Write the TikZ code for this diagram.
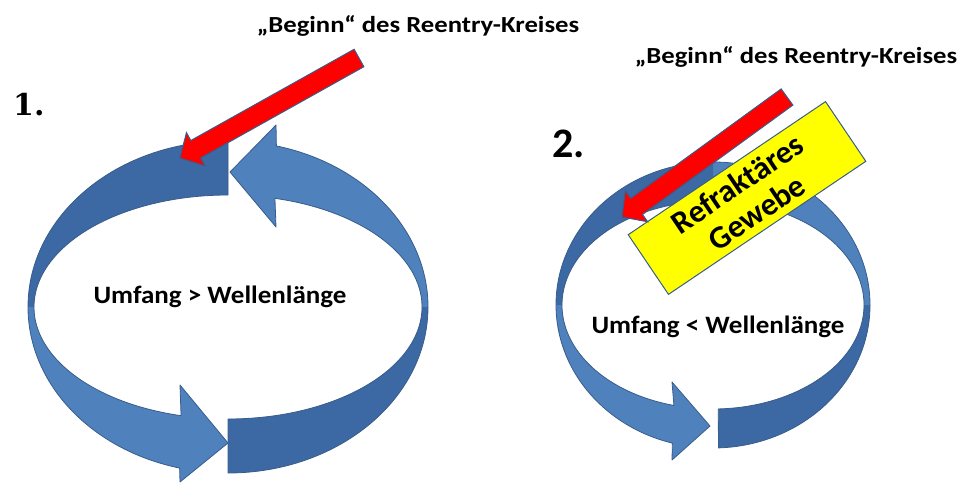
\documentclass[tikz,border=0pt]{standalone}
\usepackage{fontspec}
\usepackage{tikz}
\usetikzlibrary{calc}
\newfontfamily\carlito{Carlito}
\newfontfamily\numfont{DejaVu Serif}
\definecolor{ringlight}{RGB}{79, 129, 189}
\definecolor{ringdark}{RGB}{60, 104, 163}
\definecolor{ringline}{RGB}{56, 93, 138}
\definecolor{arrowred}{RGB}{255, 0, 0}
\definecolor{boxyellow}{RGB}{255, 255, 0}
% one piece of the ring band between two angles
\newcommand{\ringseg}[2]{({\rxo*cos(#1)},{\ryo*sin(#1)})
  arc[start angle=#1, end angle=#2, x radius=\rxo, y radius=\ryo]
  -- ({\rxi*cos(#2)},{\ryi*sin(#2)})
  arc[start angle=#2, end angle=#1, x radius=\rxi, y radius=\ryi] -- cycle}
% band piece that ends in an arrow head
\newcommand{\ringhead}[5]{({\rxo*cos(#1)},{\ryo*sin(#1)})
  arc[start angle=#1, end angle=#2, x radius=\rxo, y radius=\ryo]
  -- #3 -- #4 -- #5 -- ({\rxi*cos(#2)},{\ryi*sin(#2)})
  arc[start angle=#2, end angle=#1, x radius=\rxi, y radius=\ryi] -- cycle}
% red block arrow from #1 to #2
\newcommand{\blockarrow}[2]{%
  \coordinate (hb) at ($(#2)!18pt!(#1)$);
  \filldraw[redarrow] ($(#1)!10pt!90:(#2)$) -- ($(hb)!10pt!90:(#2)$)
    -- ($(hb)!19pt!90:(#2)$) -- (#2) -- ($(hb)!19pt!-90:(#2)$)
    -- ($(hb)!10pt!-90:(#2)$) -- ($(#1)!10pt!-90:(#2)$) -- cycle;}

\begin{document}
\begin{tikzpicture}[x=1pt, y=1pt,
    ringline/.style={draw=ringline, line width=0.8pt, line join=round},
    redarrow/.style={fill=arrowred, draw=ringline, line width=1pt, line join=miter},
    title/.style={font=\carlito\bfseries\fontsize{23}{27}\selectfont, xscale=1.16, anchor=base},
    ratio/.style={font=\carlito\bfseries\fontsize{25}{29}\selectfont, xscale=1.08, anchor=base},
    refbox/.style={fill=boxyellow, draw=ringline, line width=1pt, align=center,
      minimum width=238pt, minimum height=72pt, inner sep=1pt,
      font=\carlito\bfseries\fontsize{32}{35}\selectfont}]

  \useasboundingbox (0, 0) rectangle (965, 483);

  % 1. two arrows, circumference > wavelength
  \begin{scope}[shift={(228, 176)}]
    \def\rxo{200}\def\ryo{166}\def\rxi{194}\def\ryi{112}
    \fill[ringdark] \ringseg{-90}{0};
    \fill[ringlight] \ringhead{0}{76}{(48, 182)}{(2, 135)}{(48, 80)};
    \draw[ringline] \ringhead{-90}{76}{(48, 182)}{(2, 135)}{(48, 80)};
    \fill[ringdark] \ringseg{90}{180};
    \fill[ringlight] \ringhead{180}{256}{(-48, -175)}{(0, -136)}{(-48, -78)};
    \draw[ringline] \ringhead{90}{256}{(-48, -175)}{(0, -136)}{(-48, -78)};
  \end{scope}

  \coordinate (tail1) at (359, 425);
  \coordinate (tip1) at (180, 325);
  \blockarrow{tail1}{tip1}

  % 2. one arrow, circumference < wavelength
  \begin{scope}[shift={(713, 178)}]
    \def\rxo{157}\def\ryo{143}\def\rxi{151}\def\ryi{104}
    \foreach \a/\b/\c in {-88/0/ringdark, 0/90/ringlight, 90/180/ringdark}
      \fill[\c] \ringseg{\a}{\b};
    \fill[ringlight] \ringhead{180}{255}{(-41, -155)}{(-3, -121)}{(-41, -77)};
    \draw[ringline] \ringhead{-88}{255}{(-41, -155)}{(-3, -121)}{(-41, -77)};
  \end{scope}

  \node[refbox, rotate=34] (gewebe) at (747, 285) {Refraktäres\\Gewebe};

  \coordinate (tail2) at (787, 386);
  \coordinate (tip2) at (622, 266);
  \blockarrow{tail2}{tip2}

  % labels
  \node[title] (begin1) at (418, 450) {„Beginn“ des Reentry-Kreises};
  \node[title] (begin2) at (796, 419) {„Beginn“ des Reentry-Kreises};
  \node[anchor=base west, inner sep=0pt, font=\numfont\bfseries\fontsize{30}{36}\selectfont] (one) at (13, 368) {1.};
  \node[anchor=base west, inner sep=0pt, font=\carlito\bfseries\fontsize{42}{48}\selectfont] (two) at (552, 326) {2.};
  \node[ratio] (ratio1) at (220, 180) {Umfang > Wellenlänge};
  \node[ratio] (ratio2) at (718, 150) {Umfang < Wellenlänge};

\end{tikzpicture}
\end{document}
